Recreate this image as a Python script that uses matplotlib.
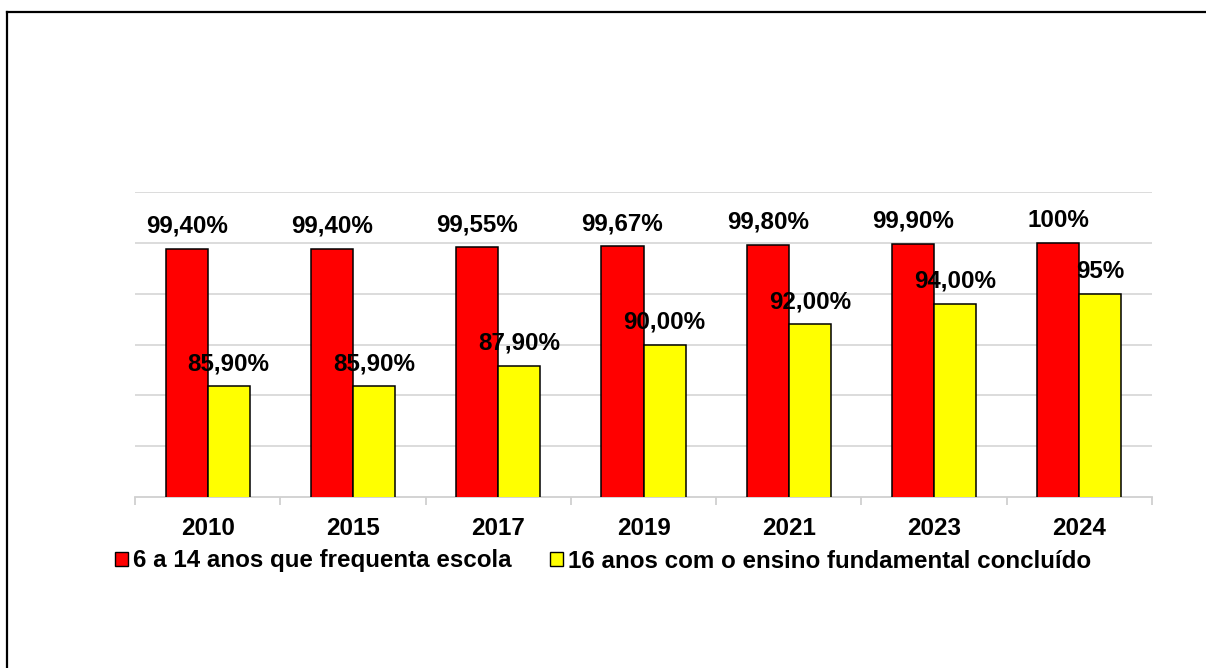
import matplotlib
matplotlib.use("Agg")
import matplotlib.pyplot as plt
from matplotlib.patches import Patch
from matplotlib.lines import Line2D
import numpy as np

categories = ["2010", "2015", "2017", "2019", "2021", "2023", "2024"]
series1_name = "6 a 14 anos que frequenta escola"
series2_name = "16 anos com o ensino fundamental concluído"
series1 = [99.40, 99.40, 99.55, 99.67, 99.80, 99.90, 100.0]
series2 = [85.90, 85.90, 87.90, 90.00, 92.00, 94.00, 95.0]
labels1 = ["99,40%", "99,40%", "99,55%", "99,67%", "99,80%", "99,90%", "100%"]
labels2 = ["85,90%", "85,90%", "87,90%", "90,00%", "92,00%", "94,00%", "95%"]

plt.rcParams['font.family'] = ['Liberation Sans', 'DejaVu Sans']
W, H = 1206, 668
FS = 17.4
fig = plt.figure(figsize=(W/100, H/100), dpi=100)
ax = fig.add_axes([135/W, 1-497/H, (1152-135)/W, (497-192)/H])

x = np.arange(len(categories))
bw = 0.29
b1 = ax.bar(x - bw/2, series1, bw, color="#ff0000", edgecolor="black", linewidth=1.1, zorder=3)
b2 = ax.bar(x + bw/2, series2, bw, color="#ffff00", edgecolor="black", linewidth=1.1, zorder=3)

for rect, lab in zip(b1, labels1):
    ax.annotate(lab, (rect.get_x()+rect.get_width()/2, rect.get_height()),
                xytext=(0, 11.5), textcoords="offset points", ha="center", va="baseline",
                fontsize=FS, fontweight="bold", zorder=5)
for rect, lab in zip(b2, labels2):
    ax.annotate(lab, (rect.get_x()+rect.get_width()/2, rect.get_height()),
                xytext=(0, 11.5), textcoords="offset points", ha="center", va="baseline",
                fontsize=FS, fontweight="bold", zorder=5)

ax.set_ylim(75, 105)
ax.set_xlim(-0.5, len(categories)-0.5)
ax.set_yticks(np.arange(80, 106, 5))
ax.yaxis.grid(True, color="#d9d9d9", linewidth=1.3)
ax.set_axisbelow(True)
ax.tick_params(axis="y", left=False, labelleft=False)
ax.set_xticks(x)
ax.set_xticklabels(categories, fontsize=FS, fontweight="bold")
ax.tick_params(axis="x", which="major", length=0, pad=14.5)
ax.set_xticks(np.arange(-0.5, len(categories), 1), minor=True)
ax.tick_params(axis="x", which="minor", length=5.5, color="#d0d0d0", width=1.3)
for s in ["top", "right", "left"]:
    ax.spines[s].set_visible(False)
ax.spines["bottom"].set_color("#d0d0d0")
ax.spines["bottom"].set_linewidth(1.3)

handles = [Patch(facecolor="#ff0000", edgecolor="black", linewidth=1.0),
           Patch(facecolor="#ffff00", edgecolor="black", linewidth=1.0)]
fig.legend(handles, [series1_name, series2_name], loc="center",
           bbox_to_anchor=(0.5, 1-561/H), ncol=2, frameon=False,
           prop={"size": FS, "weight": "bold"}, handlelength=0.55, handleheight=0.55,
           handletextpad=0.2, columnspacing=1.6, borderpad=0, borderaxespad=0)

fig.add_artist(Line2D([7/W, 1.0], [1-12/H, 1-12/H], color="black", linewidth=1.6, transform=fig.transFigure))
fig.add_artist(Line2D([7/W, 7/W], [0, 1-12/H], color="black", linewidth=1.6, transform=fig.transFigure))

fig.savefig("out.png", dpi=100)
